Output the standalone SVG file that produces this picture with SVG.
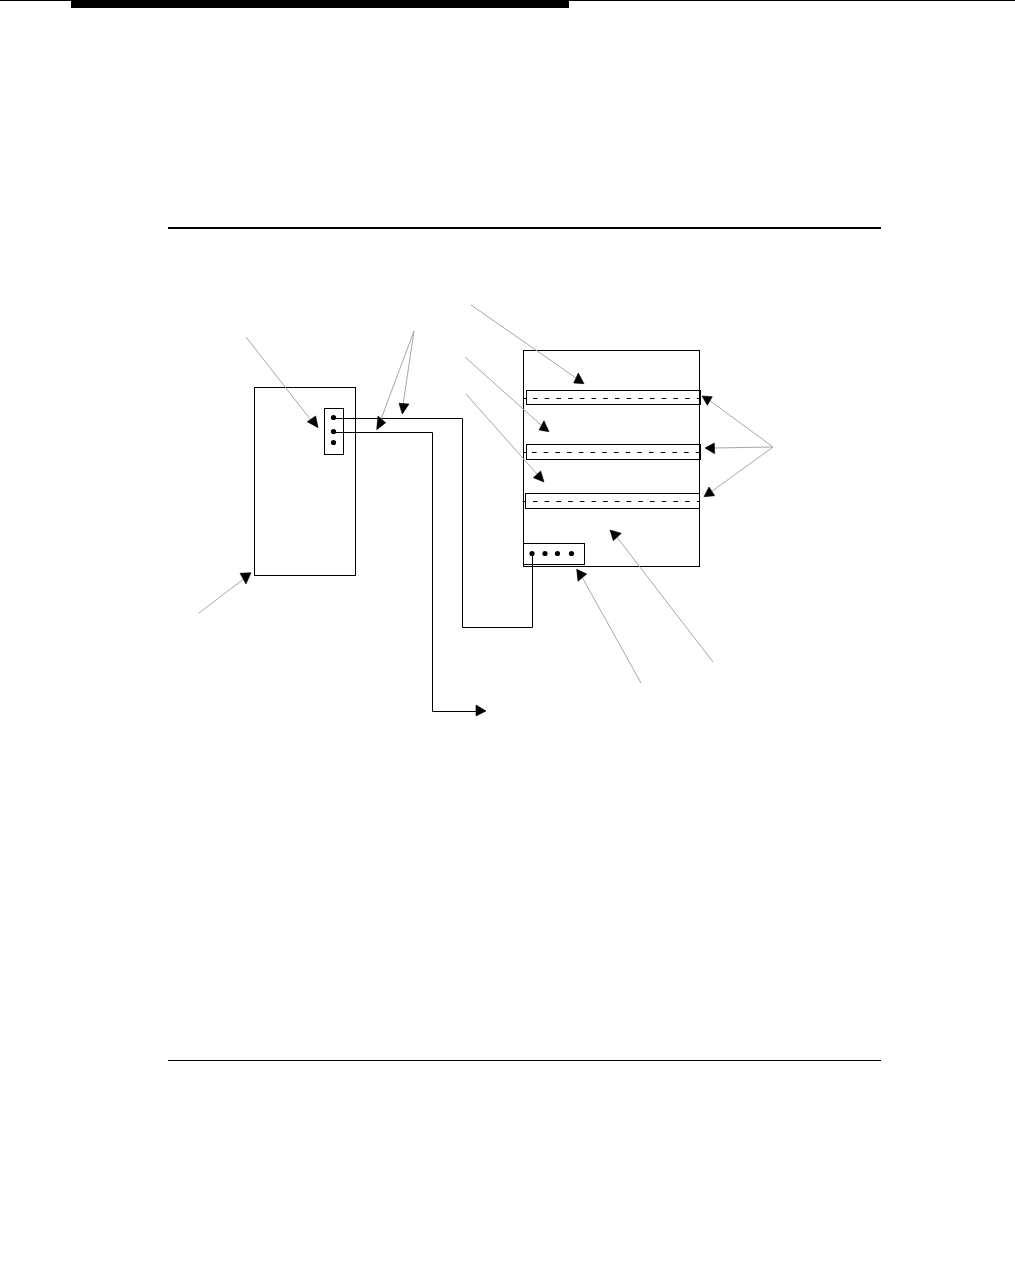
<svg xmlns="http://www.w3.org/2000/svg" width="1015" height="1276" viewBox="0 0 1015 1276">
<style>
.b{fill:none;stroke:#000;stroke-width:1}
.l{fill:none;stroke:#a6a6a6;stroke-width:1}
.h{fill:#000;stroke:#000;stroke-width:.6;stroke-linejoin:round}
.d{fill:#000;stroke:none}
.da{fill:none;stroke:#000;stroke-width:1;stroke-dasharray:4.6 7.1}
.t{fill:none;stroke:#000;stroke-width:1}
</style>
<rect width="1015" height="1276" fill="#fff"/>
<g id="page-rules">
<rect x="0" y="0" width="1015" height="1" fill="#000"/>
<rect x="71" y="0" width="498" height="8" fill="#000"/>
<rect x="168" y="227" width="713" height="2" fill="#000"/>
<rect x="168" y="1060" width="713" height="1" fill="#000"/>
</g>
<g id="left-unit">
<rect class="b" x="254.5" y="387.5" width="101" height="188"/>
</g>
<g id="left-terminal">
<rect class="b" x="324.5" y="408.5" width="19" height="46"/>
<circle class="d" cx="333.5" cy="417.5" r="2.6"/>
<circle class="d" cx="333.5" cy="431.5" r="2.6"/>
<circle class="d" cx="333.5" cy="442.5" r="2.6"/>
</g>
<g id="right-unit">
<rect class="b" x="523.5" y="350.5" width="176" height="216"/>
</g>
<g id="slot-1">
<rect class="b" x="526.5" y="390.5" width="174" height="14"/>
<path class="t" d="M523 398.5H526.5"/>
<path class="da" d="M533 398.5H700"/>
</g>
<g id="slot-2">
<rect class="b" x="526.5" y="444.5" width="174" height="15"/>
<path class="t" d="M523 452.5H526.5"/>
<path class="da" d="M532 452.5H700"/>
</g>
<g id="slot-3">
<rect class="b" x="525.5" y="493.5" width="174" height="15"/>
<path class="t" d="M523 501.5H525.5"/>
<path class="da" d="M533 501.5H699"/>
</g>
<g id="right-terminal">
<rect class="b" x="523.5" y="543.5" width="61" height="21"/>
<circle class="d" cx="532" cy="553.5" r="2.6"/>
<circle class="d" cx="545" cy="553.5" r="2.6"/>
<circle class="d" cx="557.5" cy="553.5" r="2.6"/>
<circle class="d" cx="571.5" cy="553.5" r="2.6"/>
</g>
<g id="connectors">
<path class="b" d="M333.5 418.5H462.5V627.5H532.5V553"/>
<path class="b" d="M333.5 432.5H432.5V711.5H477"/>
<polygon class="h" points="476,705 486,711 476,716"/>
<path class="l" d="M246 337L314 424"/>
<polygon class="h" points="307.3,421.7 315.7,416 318,427.7"/>
<path class="l" d="M414 331L380 422"/>
<polygon class="h" points="376.7,429.7 378,416 385.7,422.7"/>
<path class="l" d="M414 331L403 405"/>
<polygon class="h" points="402.3,414 399,403.3 409,404"/>
<path class="l" d="M471 305L576 378"/>
<polygon class="h" points="578.3,373 573.7,383 584,383.7"/>
<path class="l" d="M465 357L541 425"/>
<polygon class="h" points="544,420.7 539,430 549,431.7"/>
<path class="l" d="M466 394L537 474"/>
<polygon class="h" points="540.7,471 533.3,477.7 544,482"/>
<path class="l" d="M773 447L709 400"/>
<polygon class="h" points="702,396 712.3,396.7 707.3,405.3"/>
<path class="l" d="M773 447L714 448"/>
<polygon class="h" points="705,448 714.3,443 714.7,453.7"/>
<path class="l" d="M773 447L711 492"/>
<polygon class="h" points="704,496.7 709,487 714.7,495.7"/>
<path class="l" d="M641 683L582 577"/>
<polygon class="h" points="576.7,569.3 586.7,574 578,581.3"/>
<path class="l" d="M713 662L616 536"/>
<polygon class="h" points="610,530 621.3,533.3 613.3,540.7"/>
<path class="l" d="M199 613L245 578"/>
<polygon class="h" points="240,573.3 251,572.7 246,584"/>
</g>
</svg>
